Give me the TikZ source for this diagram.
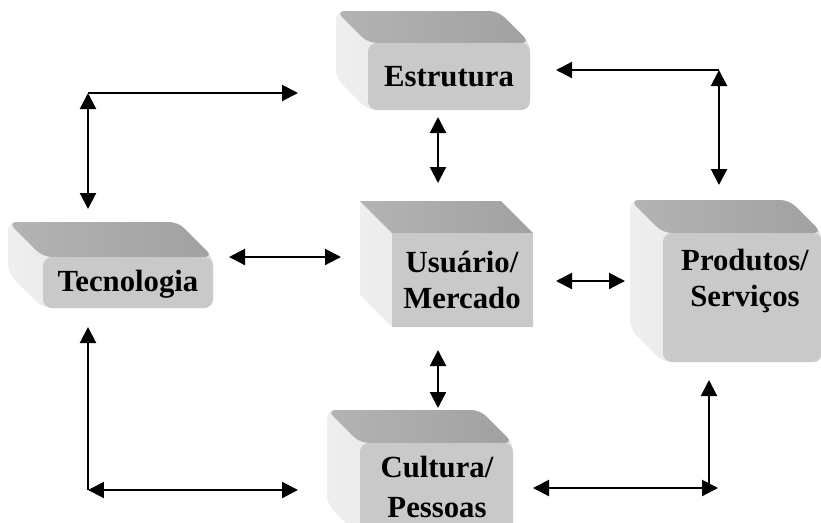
\documentclass[tikz,border=0pt]{standalone}
\usepackage{fontspec}
\setmainfont{Liberation Serif}
\usetikzlibrary{arrows.meta,calc}

\definecolor{frente}{gray}{0.79}
\definecolor{topo}{gray}{0.63}
\definecolor{lado}{gray}{0.88}

\tikzset{
    rotulo/.style={font=\bfseries\fontsize{17.5}{20.5}\selectfont, align=center, inner sep=0pt},
    seta/.style={line width=0.042cm}
}

% bloco 3D: [cantos] x1 y1 (frente, alto-esq) x2 y2 (frente, baixo-dir) profundidade
\newcommand{\bloco}[6][rounded corners=5pt]{%
    \shade[left color=lado!55!white, right color=lado, #1] ({#2-#6},{#3-#6}) -- ({#4-#6},{#3-#6}) -- (#4,#3) -- (#4,#5) -- (#2,#5) -- ({#2-#6},{#5-#6}) -- cycle;
    \shade[left color=topo!80!white, right color=topo, #1] (#2,#3) -- ({#2-#6},{#3-#6}) -- ({#4-#6},{#3-#6}) -- (#4,#3) -- cycle;
    \fill[frente, #1] (#2,#3) rectangle (#4,#5);
}

\begin{document}
\begin{tikzpicture}[x=0.02cm, y=-0.02cm, >={Triangle[length=0.32cm,width=0.32cm]}]
    \useasboundingbox (0,0) rectangle (821,522);
    \clip (0,0) rectangle (821,522);

    % blocos
    \bloco{368}{43}{530}{110}{32}
    \bloco{43}{257}{213}{308}{35}
    \bloco[sharp corners]{392}{233}{533}{327}{32}
    \bloco{663}{233}{822}{362}{33}
    \bloco{360}{443}{513}{537}{33}

    \node (estrutura) [rotulo] at (449,77) {Estrutura};
    \node (tecnologia) [rotulo] at (128,284) {Tecnologia};
    \node (usuario) [rotulo] at (462,280) {Usuário/\\Mercado};
    \node (produtos) [rotulo] at (745,281) {Produtos/\\Serviços};
    \node (cultura) [rotulo] at (437,487) {Cultura/\\[2pt]Pessoas};

    % pontas das setas
    \coordinate (te-canto) at (88,93);
    \coordinate (te-dir) at (298,93);
    \coordinate (te-baixo) at (88,209);
    \coordinate (td-canto) at (719,70);
    \coordinate (td-esq) at (556,70);
    \coordinate (td-baixo) at (719,185);
    \coordinate (be-canto) at (88,490);
    \coordinate (be-alto) at (88,327);
    \coordinate (be-dir) at (298,490);
    \coordinate (bd-canto) at (709,488);
    \coordinate (bd-alto) at (709,380);
    \coordinate (bd-esq) at (533,488);
    \coordinate (bd-dir) at (718,488);
    \coordinate (tec-us) at (229,257);
    \coordinate (us-tec) at (341,257);
    \coordinate (us-pr) at (556,281);
    \coordinate (pr-us) at (625,281);
    \coordinate (es-us) at (438,117);
    \coordinate (us-es) at (438,183);
    \coordinate (us-cu) at (438,350);
    \coordinate (cu-us) at (438,408);

    \draw [->, seta] (te-canto) -- (te-dir);
    \draw [<->, seta] (te-canto) -- (te-baixo);
    \draw [->, seta] (td-canto) -- (td-esq);
    \draw [<->, seta] (td-canto) -- (td-baixo);
    \draw [->, seta] (be-canto) -- (be-alto);
    \draw [<->, seta] (be-canto) -- (be-dir);
    \draw [->, seta] (bd-canto) -- (bd-alto);
    \draw [<->, seta] (bd-esq) -- (bd-dir);
    \draw [<->, seta] (tec-us) -- (us-tec);
    \draw [<->, seta] (us-pr) -- (pr-us);
    \draw [<->, seta] (es-us) -- (us-es);
    \draw [<->, seta] (us-cu) -- (cu-us);

\end{tikzpicture}
\end{document}
